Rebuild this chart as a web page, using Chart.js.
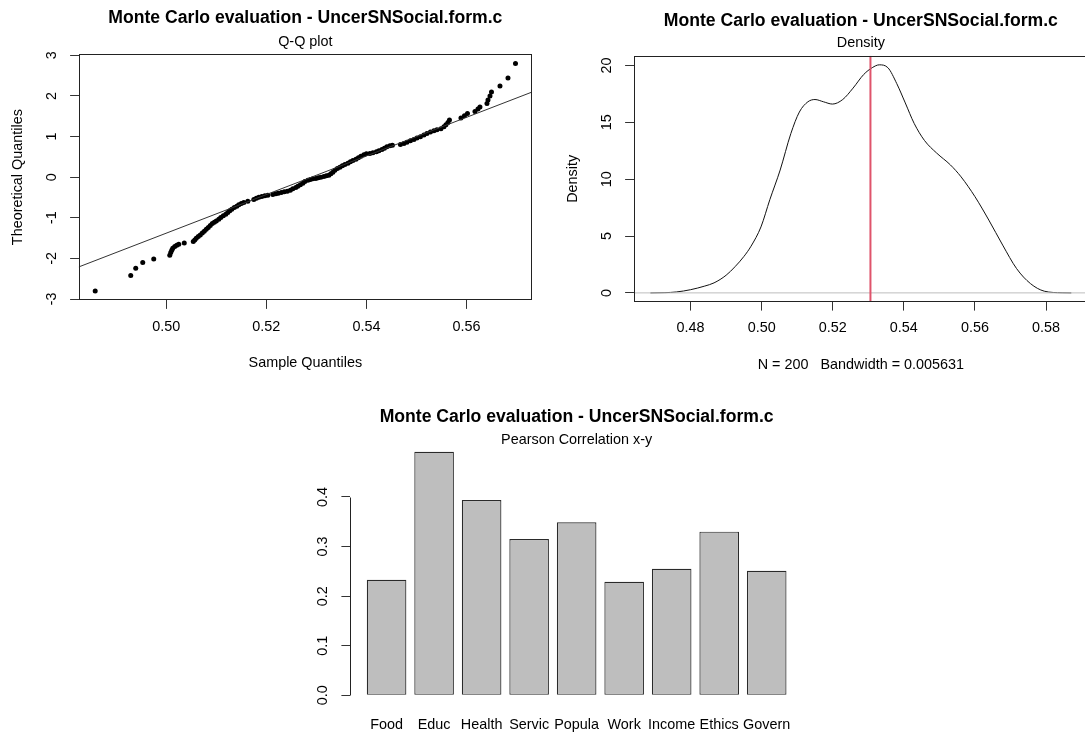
<!DOCTYPE html>
<html>
<head>
<meta charset="utf-8">
<script src="https://cdn.jsdelivr.net/npm/chart.js@4.4.1/dist/chart.umd.min.js"></script>
<style>
html, body { margin: 0; padding: 0; background: #fff; overflow: hidden; width: 1085px; height: 735px; }
canvas { position: absolute; }
</style>
</head>
<body>
<canvas id="qq" width="545" height="380" style="left:0;top:0"></canvas>
<canvas id="dens" width="560" height="380" style="left:540px;top:0"></canvas>
<canvas id="corr" width="600" height="355" style="left:250px;top:380px"></canvas>
<script>
const TITLE = 'Monte Carlo evaluation - UncerSNSocial.form.c';

// Q-Q plot: sample quantiles (x) against theoretical quantiles (y)
const qqSample = [0.4858,0.4929,0.4939,0.4953,0.4975,0.5007,0.5009,0.5011,0.5013,0.5017,
  0.5021,0.5025,0.5036,0.5054,0.5057,0.5060,0.5064,0.5068,0.5072,0.5076,
  0.5080,0.5084,0.5088,0.5092,0.5096,0.5100,0.5105,0.5109,0.5114,0.5119,
  0.5123,0.5127,0.5131,0.5136,0.5141,0.5145,0.5150,0.5155,0.5163,0.5175,
  0.5180,0.5185,0.5191,0.5197,0.5203,0.5213,0.5219,0.5224,0.5230,0.5236,
  0.5242,0.5248,0.5253,0.5259,0.5263,0.5268,0.5273,0.5277,0.5283,0.5288,
  0.5293,0.5299,0.5304,0.5309,0.5315,0.5320,0.5325,0.5329,0.5333,0.5337,
  0.5342,0.5347,0.5352,0.5357,0.5363,0.5368,0.5373,0.5379,0.5384,0.5389,
  0.5395,0.5400,0.5407,0.5413,0.5420,0.5425,0.5431,0.5436,0.5441,0.5447,
  0.5452,0.5468,0.5475,0.5481,0.5488,0.5495,0.5501,0.5508,0.5515,0.5521,
  0.5528,0.5535,0.5541,0.5549,0.5555,0.5559,0.5563,0.5566,0.5589,0.5596,
  0.5602,0.5617,0.5623,0.5627,0.5641,0.5643,0.5647,0.5650,0.5667,0.5683,0.5698];
const qqTheory = [-2.802,-2.424,-2.243,-2.104,-2.013,-1.923,-1.857,-1.800,-1.750,-1.709,
  -1.677,-1.652,-1.619,-1.586,-1.545,-1.504,-1.463,-1.422,-1.373,-1.331,
  -1.282,-1.241,-1.192,-1.142,-1.110,-1.077,-1.036,-0.995,-0.953,-0.912,
  -0.871,-0.830,-0.789,-0.748,-0.715,-0.682,-0.649,-0.625,-0.592,-0.551,
  -0.518,-0.493,-0.477,-0.460,-0.444,-0.428,-0.411,-0.395,-0.378,-0.362,
  -0.345,-0.321,-0.288,-0.255,-0.222,-0.189,-0.148,-0.107,-0.074,-0.058,
  -0.041,-0.033,-0.017,0.000,0.016,0.032,0.049,0.082,0.123,0.172,
  0.213,0.246,0.279,0.312,0.345,0.378,0.410,0.443,0.476,0.517,
  0.550,0.575,0.583,0.599,0.624,0.649,0.682,0.714,0.747,0.772,
  0.788,0.805,0.829,0.862,0.895,0.928,0.961,0.994,1.035,1.076,
  1.109,1.142,1.166,1.191,1.240,1.290,1.347,1.405,1.454,1.511,
  1.569,1.618,1.676,1.725,1.815,1.898,1.996,2.095,2.243,2.440,2.801];
const qqLineX = [0.4825, 0.5731];
const qqLineY = [-2.211, 2.095];
const qqXTicks = [0.50, 0.52, 0.54, 0.56];
const qqYTicks = [-3, -2, -1, 0, 1, 2, 3];

// kernel density
const densX = [0.4687,0.4728,0.4760,0.4800,0.4840,0.4866,0.4900,0.4925,0.4950,0.4970,
  0.4998,0.5023,0.5052,0.5082,0.5106,0.5130,0.5150,0.5174,0.5199,0.5228,
  0.5257,0.5287,0.5311,0.5331,0.5355,0.5380,0.5404,0.5429,0.5458,0.5492,
  0.5531,0.5561,0.5600,0.5639,0.5678,0.5717,0.5756,0.5795,0.5845,0.5871];
const densY = [0.0,0.02,0.08,0.28,0.60,0.88,1.55,2.3,3.2,4.1,
  5.8,8.2,10.8,14.0,15.9,16.8,17.0,16.8,16.6,17.0,
  18.0,19.2,19.8,20.05,19.8,18.4,16.7,14.9,13.4,12.3,
  11.25,10.2,8.46,6.4,4.2,2.14,0.82,0.15,0.01,0.0];
const densMean = 0.5306;
const densXTicks = [0.48, 0.50, 0.52, 0.54, 0.56, 0.58];
const densYTicks = [0, 5, 10, 15, 20];

// Pearson correlation bars
const corrLabels = ['Food', 'Educ', 'Health', 'Servic', 'Popula', 'Work', 'Income', 'Ethics', 'Govern'];
const corrValues = [0.233, 0.491, 0.394, 0.315, 0.349, 0.229, 0.255, 0.330, 0.251];
const corrYTicks = [0, 0.1, 0.2, 0.3, 0.4];

const FONT = "'Liberation Sans', Arial, sans-serif";
const BASE = 14.4;
Chart.defaults.font.family = FONT;
Chart.defaults.font.size = BASE;
Chart.defaults.color = '#000';

// R style: rotated y tick labels, frame box, short axis line
const rAxis = {
  id: 'rAxis',
  afterDraw(chart, args, opts) {
    const ctx = chart.ctx, a = chart.chartArea, ys = chart.scales.y;
    ctx.save();
    ctx.fillStyle = '#000';
    ctx.font = BASE + 'px ' + FONT;
    ctx.textAlign = 'center';
    ctx.textBaseline = 'middle';
    ys.ticks.forEach(t => {
      ctx.save();
      ctx.translate(a.left - 27, ys.getPixelForValue(t.value));
      ctx.rotate(-Math.PI / 2);
      ctx.fillText(opts.fmt(t.value), 0, 0);
      ctx.restore();
    });
    ctx.strokeStyle = '#222';
    ctx.lineWidth = 1;
    if (opts.box) {
      const l = Math.round(a.left) + 0.5, t = Math.round(a.top) + 0.5;
      const r = Math.round(a.right) - 0.5, b = Math.round(a.bottom) - 0.5;
      ctx.strokeRect(l, t, r - l, b - t);
    }
    if (opts.axisLine) {
      const x = Math.round(a.left) + 0.5;
      ctx.beginPath();
      ctx.moveTo(x, Math.round(ys.getPixelForValue(opts.axisLine[0])) + 0.5);
      ctx.lineTo(x, Math.round(ys.getPixelForValue(opts.axisLine[1])) + 0.5);
      ctx.stroke();
    }
    ctx.restore();
  }
};

function titles(sub, tPad, sPad) {
  return {
    legend: { display: false },
    tooltip: { enabled: false },
    title: { display: true, text: TITLE, fullSize: false, color: '#000',
      font: { size: 17.6, weight: 'bold' }, padding: tPad },
    subtitle: { display: true, text: sub, fullSize: false, color: '#000',
      font: { size: BASE }, padding: sPad }
  };
}

function setTicks(arr) {
  return s => { s.ticks = arr.map(v => ({ value: v })); };
}

const tickGrid = { display: true, drawOnChartArea: false, drawTicks: true, tickLength: 8.6, color: '#333', lineWidth: 1 };

// Q-Q plot
new Chart(document.getElementById('qq'), {
  type: 'scatter',
  data: {
    datasets: [
      { type: 'line', data: qqLineX.map((x, i) => ({ x: x, y: qqLineY[i] })),
        borderColor: '#333', borderWidth: 1, pointRadius: 0, fill: false },
      { data: qqSample.map((x, i) => ({ x: x, y: qqTheory[i] })),
        pointRadius: 2.5, pointBackgroundColor: '#000', pointBorderWidth: 0, showLine: false }
    ]
  },
  options: {
    responsive: false, animation: false, events: [],
    layout: { autoPadding: false, padding: { left: 0, right: 13, top: 0, bottom: 0 } },
    plugins: Object.assign(titles('Q-Q plot', { top: 7.74, bottom: 2 }, { top: 2.8, bottom: 3.06 }),
      { rAxis: { fmt: v => String(v), box: true } }),
    scales: {
      x: { type: 'linear', min: 0.4825, max: 0.5731,
        afterBuildTicks: setTicks(qqXTicks), afterFit: s => { s.height = 79.7; },
        ticks: { padding: 9.8, maxRotation: 0, callback: v => v.toFixed(2) },
        grid: tickGrid, border: { display: false },
        title: { display: true, text: 'Sample Quantiles', padding: { top: 0, bottom: 8.06 } } },
      y: { type: 'linear', min: -3.032, max: 3.032,
        afterBuildTicks: setTicks(qqYTicks), afterFit: s => { s.width = 78.7; },
        ticks: { display: false },
        grid: tickGrid, border: { display: false },
        title: { display: true, text: 'Theoretical Quantiles', padding: { top: 9.36, bottom: 0 } } }
    }
  },
  plugins: [rAxis]
});

// density
new Chart(document.getElementById('dens'), {
  type: 'scatter',
  data: {
    datasets: [
      { data: [{ x: densMean, y: -0.802 }, { x: densMean, y: 20.853 }], showLine: true,
        borderColor: '#DF536B', borderWidth: 2, pointRadius: 0 },
      { data: [{ x: 0.4640, y: 0 }, { x: 0.5918, y: 0 }], showLine: true,
        borderColor: '#BEBEBE', borderWidth: 1, pointRadius: 0 },
      { data: densX.map((x, i) => ({ x: x, y: densY[i] })), showLine: true,
        borderColor: '#111', borderWidth: 1, pointRadius: 0, cubicInterpolationMode: 'monotone' }
    ]
  },
  options: {
    responsive: false, animation: false, events: [],
    layout: { autoPadding: false, padding: { left: 0, right: 12, top: 0, bottom: 0 } },
    plugins: Object.assign(titles('Density', { top: 10.14, bottom: 2 }, { top: 1.4, bottom: 3.76 }),
      { rAxis: { fmt: v => String(v), box: true } }),
    scales: {
      x: { type: 'linear', min: 0.4640, max: 0.5918,
        afterBuildTicks: setTicks(densXTicks), afterFit: s => { s.height = 78; },
        ticks: { padding: 8.8, maxRotation: 0, callback: v => v.toFixed(2) },
        grid: tickGrid, border: { display: false },
        title: { display: true, text: 'N = 200   Bandwidth = 0.005631', padding: { top: 0, bottom: 6.36 } } },
      y: { type: 'linear', min: -0.802, max: 20.853,
        afterBuildTicks: setTicks(densYTicks), afterFit: s => { s.width = 93.7; },
        ticks: { display: false },
        grid: tickGrid, border: { display: false },
        title: { display: true, text: 'Density', padding: { top: 24.36, bottom: 0 } } }
    }
  },
  plugins: [rAxis]
});

// correlation bars, laid out like R barplot (width 1, space 0.2)
const barAt = corrValues.map((v, i) => 0.7 + 1.2 * i);
new Chart(document.getElementById('corr'), {
  type: 'bar',
  data: {
    datasets: [{
      data: corrValues.map((v, i) => ({ x: barAt[i], y: v })),
      backgroundColor: '#BEBEBE', borderColor: '#2a2a2a', borderWidth: 1.2, borderSkipped: false,
      barPercentage: 1 / 1.2, categoryPercentage: 1
    }]
  },
  options: {
    responsive: false, animation: false, events: [],
    layout: { autoPadding: false, padding: { left: 0, right: 46.7, top: 0, bottom: 0 } },
    plugins: Object.assign(titles('Pearson Correlation x-y', { top: 26.14, bottom: 0 }, { top: 4.1, bottom: -6.74 }),
      { rAxis: { fmt: v => v.toFixed(1), axisLine: [0, 0.4] } }),
    scales: {
      x: { type: 'linear', offset: false, min: -0.224, max: 11.224,
        afterBuildTicks: setTicks(barAt), afterFit: s => { s.height = 27.4; },
        ticks: { padding: 8.76, autoSkip: false, maxRotation: 0, callback: (v, i) => corrLabels[i] },
        grid: { display: false, drawTicks: false, offset: false }, border: { display: false } },
      y: { type: 'linear', min: -0.0247, max: 0.511,
        afterBuildTicks: setTicks(corrYTicks), afterFit: s => { s.width = 100; },
        ticks: { display: false },
        grid: tickGrid, border: { display: false } }
    }
  },
  plugins: [rAxis]
});
</script>
</body>
</html>
